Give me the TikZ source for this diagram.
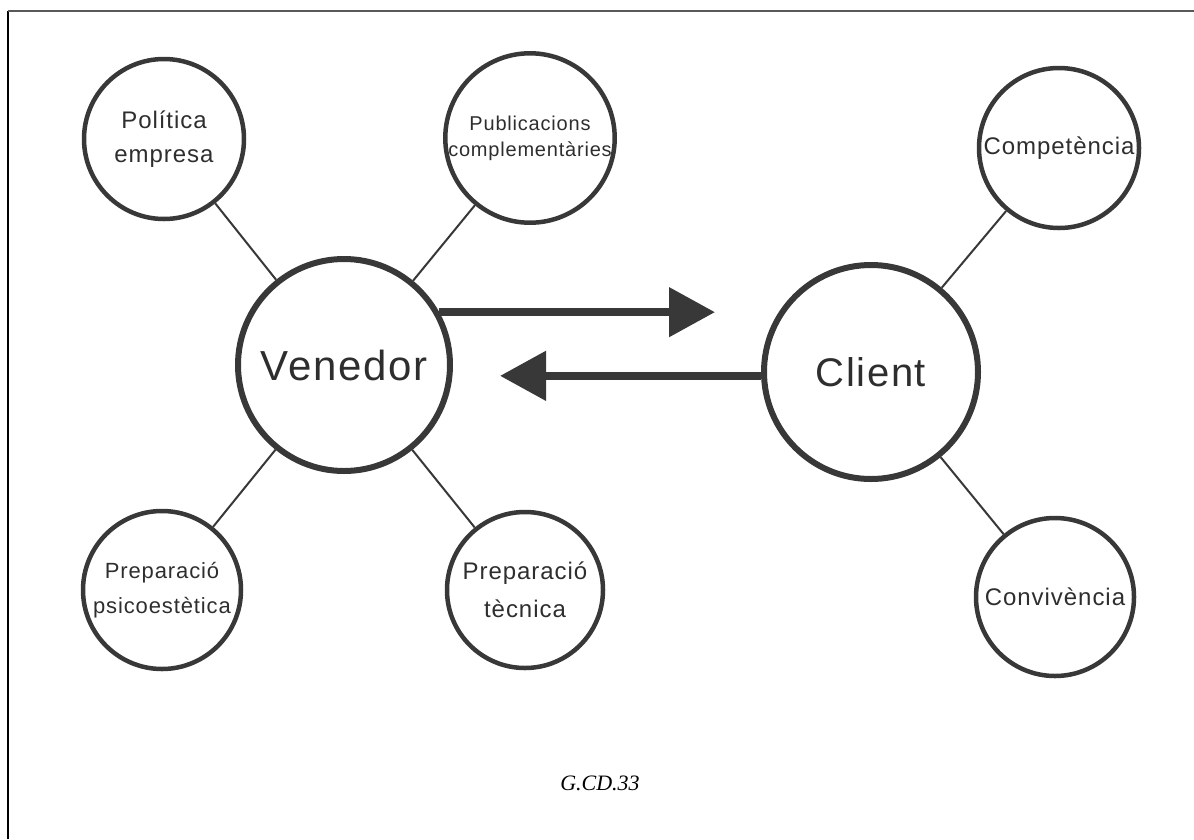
\documentclass[tikz,border=0pt]{standalone}
\usepackage{fontspec}
\setmainfont{Liberation Serif}
\newfontfamily\lbl[LetterSpace=4]{Liberation Sans}
\usetikzlibrary{arrows.meta}
\definecolor{ink}{gray}{0.22}
\definecolor{txt}{gray}{0.18}
\tikzset{
  x=1pt, y=-1pt,
  bigc/.style={circle, draw=ink, line width=6pt, inner sep=0pt, minimum size=#1, text=txt, align=center},
  smallc/.style={circle, draw=ink, line width=4.5pt, inner sep=0pt, minimum size=#1, text=txt, align=center},
  spoke/.style={draw=ink, line width=2pt},
  flow/.style={draw=ink, line width=8pt, -{Triangle[length=46pt, width=48pt]}},
}
\begin{document}
\begin{tikzpicture}
\useasboundingbox (0,0) rectangle (1194,839);
\draw[line width=2pt] (8,839) -- (8,11);
\draw[line width=2pt, gray!70!black] (8,11) -- (1194,11);
% main nodes
\node[bigc=212pt, font=\lbl\fontsize{42}{50}\selectfont] (ven) at (344,365) {Venedor};
\node[bigc=214pt, font=\lbl\fontsize{40}{48}\selectfont] (cli) at (871,372) {Client};
% satellites
\node[smallc=160pt, font=\lbl\fontsize{24}{34}\selectfont] (pol) at (164,139) {Política\\empresa};
\node[smallc=154pt, font=\lbl\fontsize{20}{26}\selectfont] (pub) at (530,138) {Publicacions\\complementàries};
\node[smallc=158pt, font=\lbl\fontsize{22}{35}\selectfont] (psi) at (162,590) {Preparació\\psicoestètica};
\node[smallc=156pt, font=\lbl\fontsize{24}{38}\selectfont] (tec) at (525,590) {Preparació\\tècnica};
\node[smallc=160pt, font=\lbl\fontsize{24}{30}\selectfont] (comp) at (1059,148) {Competència};
\node[smallc=158pt, font=\lbl\fontsize{24}{30}\selectfont] (conv) at (1055,597) {Convivència};
% spokes
\draw[spoke] (ven) -- (pol);
\draw[spoke] (ven) -- (pub);
\draw[spoke] (ven) -- (psi);
\draw[spoke] (ven) -- (tec);
\draw[spoke] (cli) -- (comp);
\draw[spoke] (cli) -- (conv);
% arrows
\coordinate (t1) at (715,314);
\coordinate (t2) at (500,376);
\draw[flow] (ven.29) -- (ven.29 -| t1);
\draw[flow] (cli.182) -- (cli.182 -| t2);
% caption
\node[font=\itshape\fontsize{22}{26}\selectfont] (cap) at (600,783) {G.CD.33};
\end{tikzpicture}
\end{document}
